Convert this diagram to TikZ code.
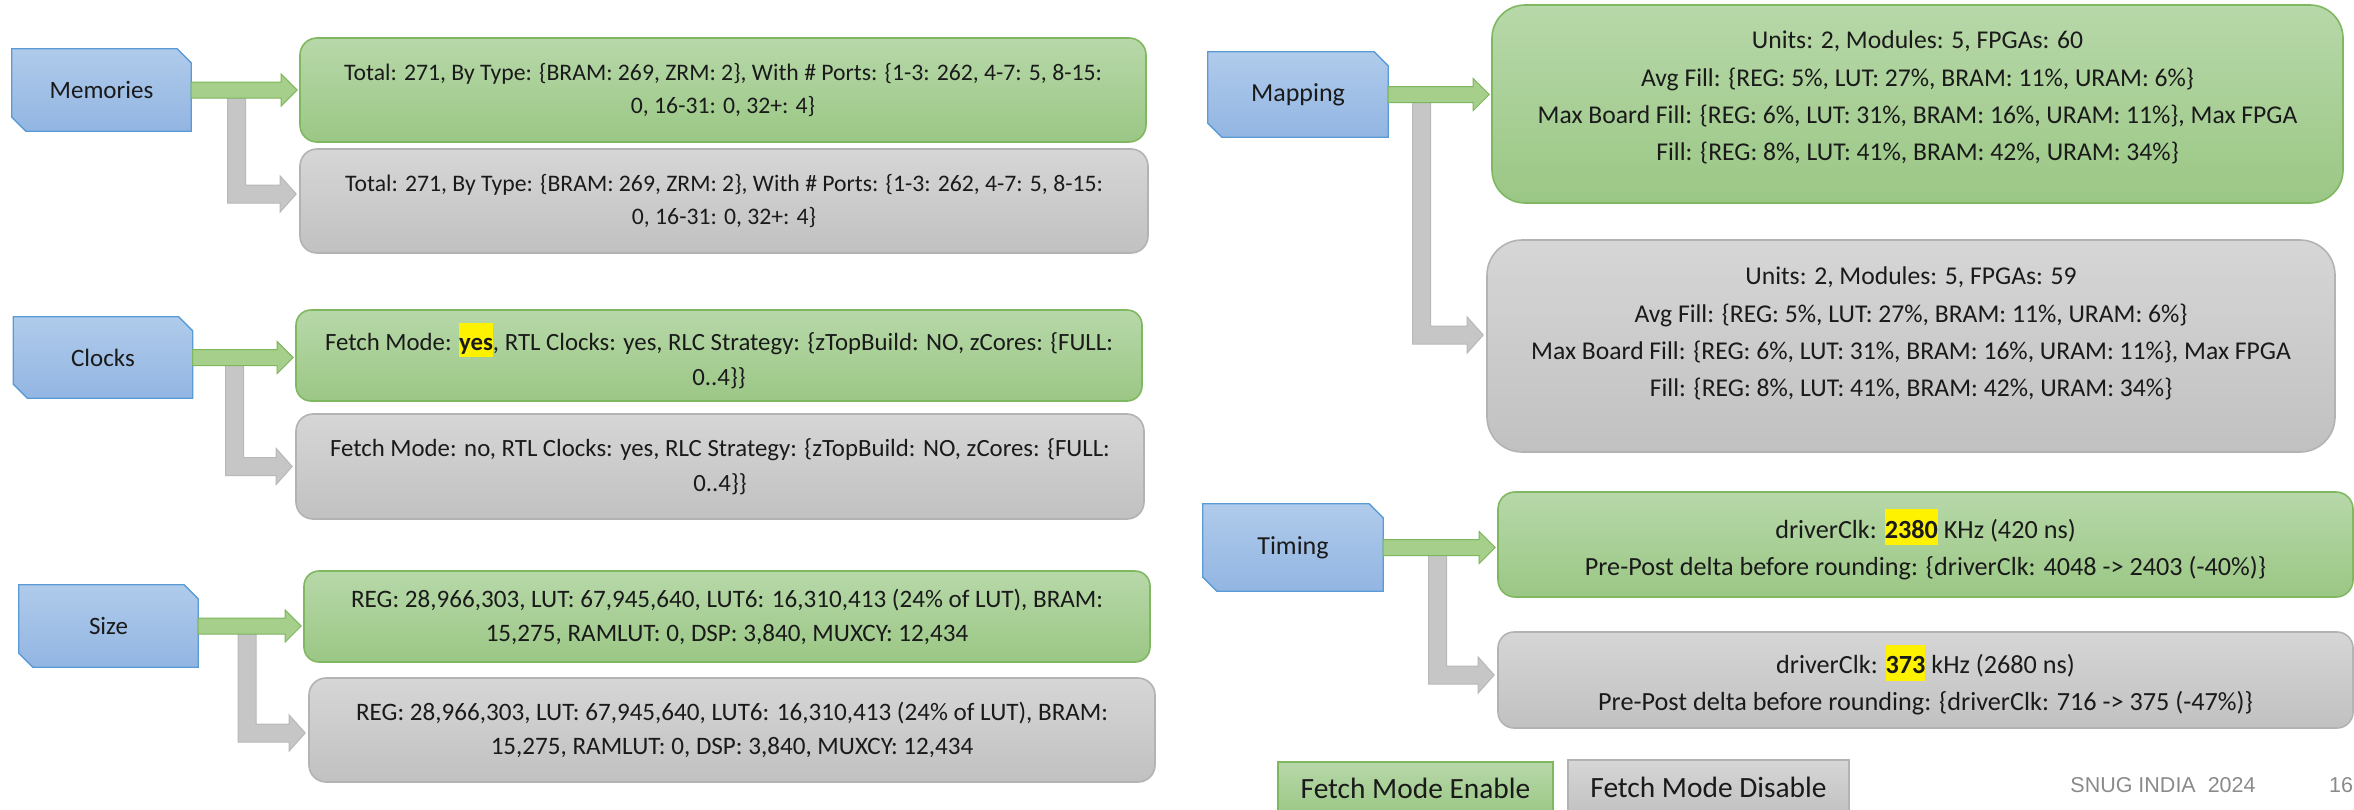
\documentclass[tikz,border=0pt]{standalone}
\usepackage{fontspec}
\setmainfont{Carlito}
\newfontfamily\footfont{Liberation Sans}
\usetikzlibrary{calc}
\pgfdeclarelayer{bg}
\pgfsetlayers{bg,main}

% palette
\definecolor{txt}{HTML}{1A1A1A}
\definecolor{lblTop}{HTML}{B0CBEB}
\definecolor{lblBot}{HTML}{92B5E2}
\definecolor{lblLine}{HTML}{5B9BD5}
\definecolor{grnTop}{HTML}{B7D8A9}
\definecolor{grnBot}{HTML}{9BC785}
\definecolor{grnLine}{HTML}{80B862}
\definecolor{gryTop}{HTML}{D6D6D6}
\definecolor{gryBot}{HTML}{C1C1C1}
\definecolor{gryLine}{HTML}{B3B3B3}
\definecolor{grnArrow}{HTML}{A6CF8C}
\definecolor{grnArrowLine}{HTML}{7DB65C}
\definecolor{gryArrow}{HTML}{C6C6C6}
\definecolor{gryArrowLine}{HTML}{B8B8B8}
\definecolor{footgray}{HTML}{8A8A8A}

% text sizes per row (size, leading)
\newcommand\fsMem{\fontsize{23.7}{33}\selectfont}
\newcommand\fsClk{\fontsize{24.8}{35}\selectfont}
\newcommand\fsSiz{\fontsize{25.1}{34}\selectfont}
\newcommand\fsMap{\fontsize{25.6}{37.3}\selectfont}
\newcommand\fsTim{\fontsize{26.2}{37}\selectfont}
\newcommand\hlt[1]{{\setlength\fboxsep{0pt}\colorbox{yellow}{\rule[-0.27em]{0pt}{1.38em}\textbf{#1}}}}

\tikzset{
  x=1pt, y=-1pt,
  every node/.style={text=txt},
  lbl/.style={minimum width=179pt, minimum height=82pt, inner sep=0pt,
    font=\fontsize{25}{28}\selectfont},
  lblshape/.style={top color=lblTop, bottom color=lblBot, draw=lblLine, line width=1.3pt},
  gbox/.style={top color=grnTop, bottom color=grnBot, draw=grnLine, line width=1.6pt,
    align=center, inner sep=0pt},
  rbox/.style={top color=gryTop, bottom color=gryBot, draw=gryLine, line width=1.6pt,
    align=center, inner sep=0pt},
  garr/.style={fill=grnArrow, draw=grnArrowLine, line width=1pt},
  rarr/.style={fill=gryArrow, draw=gryArrowLine, line width=1pt},
  legend/.style={inner sep=0pt, font=\fontsize{29.4}{32}\selectfont},
  foot/.style={inner sep=0pt, text=footgray, font=\footfont\fontsize{21.5}{24}\selectfont},
}

% category tag with snipped top-right and bottom-left corners
\newcommand\snipbox[1]{%
  \path[lblshape] (#1.north west) -- ($(#1.north east)+(-14,0)$) -- ($(#1.north east)+(0,14)$)
    -- (#1.south east) -- ($(#1.south west)+(14,0)$) -- ($(#1.south west)+(0,-14)$) -- cycle;}

% straight block arrow from a tag to its result box
\newcommand\fwdarrow[2]{%
  \filldraw[garr] let \p1=(#1.east), \p2=(#2.west) in
    (\x1,\y1+8pt) -- (\x2-18pt,\y1+8pt) -- (\x2-18pt,\y1+16pt) -- (\x2-2pt,\y1)
    -- (\x2-18pt,\y1-16pt) -- (\x2-18pt,\y1-8pt) -- (\x1,\y1-8pt) -- cycle;}

% bent block arrow: #3 = bar offset right of the tag, #4 = downward shift of the head
\newcommand\elbowarrow[4]{%
  \filldraw[rarr] let \p1=(#1.east), \p2=(#2.west), \n1={\x1+#3pt}, \n2={\y2-(#4pt)} in
    (\n1-9pt,\y1) -- (\n1+9pt,\y1) -- (\n1+9pt,\n2+9pt) -- (\x2-19pt,\n2+9pt)
    -- (\x2-19pt,\n2+18pt) -- (\x2-3pt,\n2) -- (\x2-19pt,\n2-18pt) -- (\x2-19pt,\n2-9pt)
    -- (\n1-9pt,\n2-9pt) -- cycle;}

\begin{document}
\begin{tikzpicture}
\useasboundingbox (0,0) rectangle (2354,809);

% ---- tags ----
\node[lbl] (L1) at (101.5,90) {Memories};
\node[lbl, minimum height=81pt] (L2) at (103,357.5) {Clocks};
\node[lbl] (L3) at (108.5,626) {Size};
\node[lbl, font=\fontsize{26}{28}\selectfont, minimum width=180pt, minimum height=85pt] (L4) at (1298,94.5) {Mapping};
\node[lbl, font=\fontsize{26}{28}\selectfont, minimum width=180pt, minimum height=87pt] (L5) at (1293,547.5) {Timing};

\begin{pgfonlayer}{bg}
  \snipbox{L1}\snipbox{L2}\snipbox{L3}\snipbox{L4}\snipbox{L5}
\end{pgfonlayer}

% ---- Memories ----
\node[gbox, font=\fsMem, minimum width=846pt, minimum height=104pt, rounded corners=17pt] (G1) at (723,90)
  {Total: 271, By Type: \{BRAM: 269, ZRM: 2\}, With \# Ports: \{1-3: 262, 4-7: 5, 8-15:\\
   0, 16-31: 0, 32+: 4\}};
\node[rbox, font=\fsMem, minimum width=848pt, minimum height=104pt, rounded corners=17pt] (R1) at (724,201)
  {Total: 271, By Type: \{BRAM: 269, ZRM: 2\}, With \# Ports: \{1-3: 262, 4-7: 5, 8-15:\\
   0, 16-31: 0, 32+: 4\}};

% ---- Clocks ----
\node[gbox, font=\fsClk, minimum width=846pt, minimum height=91pt, rounded corners=15pt] (G2) at (719,355.5)
  {Fetch Mode: \hlt{yes}, RTL Clocks: yes, RLC Strategy: \{zTopBuild: NO, zCores: \{FULL:\\
   0..4\}\}};
\node[rbox, font=\fsClk, minimum width=848pt, minimum height=105pt, rounded corners=17pt] (R2) at (720,466.5)
  {Fetch Mode: no, RTL Clocks: yes, RLC Strategy: \{zTopBuild: NO, zCores: \{FULL:\\
   0..4\}\}};

% ---- Size ----
\node[gbox, font=\fsSiz, minimum width=846pt, minimum height=91pt, rounded corners=15pt] (G3) at (727,616.5)
  {REG: 28,966,303, LUT: 67,945,640, LUT6: 16,310,413 (24\% of LUT), BRAM:\\
   15,275, RAMLUT: 0, DSP: 3,840, MUXCY: 12,434};
\node[rbox, font=\fsSiz, minimum width=846pt, minimum height=104pt, rounded corners=17pt] (R3) at (732,730)
  {REG: 28,966,303, LUT: 67,945,640, LUT6: 16,310,413 (24\% of LUT), BRAM:\\
   15,275, RAMLUT: 0, DSP: 3,840, MUXCY: 12,434};

% ---- Mapping ----
\node[gbox, font=\fsMap, minimum width=851pt, minimum height=198pt, rounded corners=33pt] (G4) at (1917.5,104)
  {Units: 2, Modules: 5, FPGAs: 60\\
   Avg Fill: \{REG: 5\%, LUT: 27\%, BRAM: 11\%, URAM: 6\%\}\\
   Max Board Fill: \{REG: 6\%, LUT: 31\%, BRAM: 16\%, URAM: 11\%\}, Max FPGA\\
   Fill: \{REG: 8\%, LUT: 41\%, BRAM: 42\%, URAM: 34\%\}\rule[-16pt]{0pt}{0pt}};
\node[rbox, font=\fsMap, minimum width=848pt, minimum height=212pt, rounded corners=35pt] (R4) at (1911,346)
  {Units: 2, Modules: 5, FPGAs: 59\\
   Avg Fill: \{REG: 5\%, LUT: 27\%, BRAM: 11\%, URAM: 6\%\}\\
   Max Board Fill: \{REG: 6\%, LUT: 31\%, BRAM: 16\%, URAM: 11\%\}, Max FPGA\\
   Fill: \{REG: 8\%, LUT: 41\%, BRAM: 42\%, URAM: 34\%\}\rule[-28pt]{0pt}{0pt}};

% ---- Timing ----
\node[gbox, font=\fsTim, minimum width=855pt, minimum height=105pt, rounded corners=17pt] (G5) at (1925.5,544.5)
  {driverClk: \hlt{2380} KHz (420 ns)\\
   Pre-Post delta before rounding: \{driverClk: 4048 -> 2403 (-40\%)\}};
\node[rbox, font=\fsTim, minimum width=855pt, minimum height=96pt, rounded corners=16pt] (R5) at (1925.5,680)
  {driverClk: \hlt{373} kHz (2680 ns)\\
   Pre-Post delta before rounding: \{driverClk: 716 -> 375 (-47\%)\}};

% ---- connectors: disabled path first, enabled path drawn over it ----
\elbowarrow{L1}{R1}{45.5}{-7}
\elbowarrow{L2}{R2}{42}{0}
\elbowarrow{L3}{R3}{49}{3}
\elbowarrow{L4}{R4}{33.5}{-11}
\elbowarrow{L5}{R5}{54.5}{-5}
\fwdarrow{L1}{G1}
\fwdarrow{L2}{G2}
\fwdarrow{L3}{G3}
\fwdarrow{L4}{G4}
\fwdarrow{L5}{G5}

% ---- legend ----
\node[legend, top color=grnTop, bottom color=grnBot, draw=grnLine, line width=1.6pt,
      minimum width=275pt, minimum height=53pt] (E) at (1415.5,788.5) {Fetch Mode Enable};
\node[legend, top color=gryTop, bottom color=gryBot, draw=gryLine, line width=1.6pt,
      minimum width=281pt, minimum height=55pt] (D) at (1708.5,787.5) {Fetch Mode Disable};

% ---- footer ----
\node[foot] (snug) at (2163,785) {SNUG INDIA~~2024};
\node[foot] (page) at (2341,785) {16};
\end{tikzpicture}
\end{document}
